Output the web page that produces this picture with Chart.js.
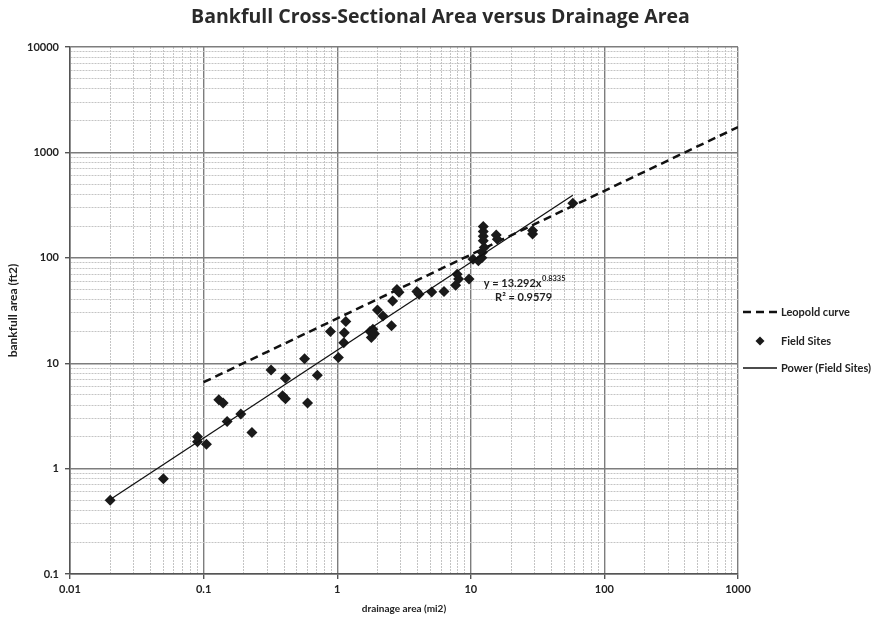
<!DOCTYPE html>
<html>
<head>
<meta charset="utf-8">
<title>Bankfull Cross-Sectional Area versus Drainage Area</title>
<script src="https://cdn.jsdelivr.net/npm/chart.js@4.4.1/dist/chart.umd.min.js"></script>
<style>
  html, body { margin: 0; padding: 0; background: #fff; }
  #wrap { width: 881px; height: 622px; }
</style>
</head>
<body>
<div id="wrap"><canvas id="chart" width="881" height="622"></canvas></div>
<script>
// Field sites: drainage area (mi2) and bankfull cross-sectional area (ft2)
var SITE_AREA = [0.02, 0.05, 0.09, 0.09, 0.105, 0.13, 0.14, 0.15, 0.19, 0.23,
  0.32, 0.39, 0.41, 0.41, 0.57, 0.6, 0.71, 0.89, 1.02, 1.12, 1.13, 1.16,
  1.76, 1.8, 1.85, 1.9, 2.0, 2.2, 2.55, 2.6, 2.8, 2.9, 3.95, 4.1, 5.1, 6.3,
  7.7, 7.9, 8.1, 9.7, 10.4, 11.4, 12.1, 12.2, 12.6, 12.4, 12.4, 12.4, 12.4,
  15.5, 15.8, 29, 29, 58];
var SITE_BANKFULL = [0.5, 0.8, 2.0, 1.8, 1.7, 4.5, 4.2, 2.8, 3.3, 2.2,
  8.6, 4.9, 4.6, 7.2, 11, 4.2, 7.7, 20, 11.3, 15.6, 19.5, 24.8,
  20, 17.5, 21, 19, 32, 28, 22.7, 39, 50, 47, 48, 45, 47.5, 48,
  55, 70, 63, 63, 97, 94, 100, 112, 125, 145, 160, 178, 198,
  165, 150, 182, 168, 330];

// Leopold regional curve end points
var LEOPOLD_AREA = [0.1, 1000];
var LEOPOLD_BANKFULL = [6.6, 1740];

// Power trendline through the field sites, y = 13.292x^0.8335
var POWER_AREA = [0.02, 58];
var POWER_BANKFULL = [0.51, 392];

var X_TICKS = [0.01, 0.1, 1, 10, 100, 1000];
var Y_TICKS = [0.1, 1, 10, 100, 1000, 10000];

var FONT = 'Lato, "Open Sans", sans-serif';
var TEXT_COLOR = '#222';

function toPoints(xs, ys) {
  return xs.map(function (x, i) { return { x: x, y: ys[i] }; });
}

function isDecade(value) {
  var l = Math.log10(value);
  return Math.abs(l - Math.round(l)) < 1e-6;
}

// log axis with a line at every 1..9 x 10^n, labels only on the decades
function logTicks(majors) {
  return function (scale) {
    var ticks = [];
    majors.forEach(function (m, i) {
      if (i === majors.length - 1) {
        ticks.push({ value: m });
        return;
      }
      for (var k = 1; k <= 9; k++) {
        ticks.push({ value: m * k });
      }
    });
    scale.ticks = ticks;
  };
}

function tickLabel(majors) {
  return function (value) {
    for (var i = 0; i < majors.length; i++) {
      if (Math.abs(Math.log10(majors[i]) - Math.log10(value)) < 1e-6) {
        return String(majors[i]);
      }
    }
    return '';
  };
}

function gridOptions() {
  return {
    color: function (c) { return c.tick && isDecade(c.tick.value) ? '#7d7d7d' : '#c4c4c4'; },
    lineWidth: function (c) { return c.tick && isDecade(c.tick.value) ? 1.4 : 1; },
    tickColor: function (c) { return c.tick && isDecade(c.tick.value) ? '#555' : 'rgba(0,0,0,0)'; },
    tickLength: 5
  };
}

function borderOptions() {
  return {
    color: '#555',
    width: 1.5,
    dash: function (c) { return c.tick && !isDecade(c.tick.value) ? [2, 1] : []; }
  };
}

// legend at the right of the plot
var sideLegend = {
  id: 'sideLegend',
  afterDraw: function (chart) {
    var ctx = chart.ctx;
    var x0 = chart.chartArea.right + 5;
    var rows = [312, 341, 368];
    var names = chart.data.datasets.map(function (d) { return d.label; });

    ctx.save();
    ctx.font = 'bold 11px ' + FONT;
    ctx.fillStyle = TEXT_COLOR;
    ctx.textBaseline = 'middle';

    // Leopold curve
    ctx.strokeStyle = '#111';
    ctx.lineWidth = 2.5;
    ctx.setLineDash([8, 5]);
    ctx.beginPath();
    ctx.moveTo(x0, rows[0]);
    ctx.lineTo(x0 + 34, rows[0]);
    ctx.stroke();
    ctx.setLineDash([]);
    ctx.fillText(names[0], x0 + 38, rows[0]);

    // Field sites
    var cx = x0 + 17;
    ctx.fillStyle = '#1a1a1a';
    ctx.beginPath();
    ctx.moveTo(cx, rows[1] - 4.5);
    ctx.lineTo(cx + 4.5, rows[1]);
    ctx.lineTo(cx, rows[1] + 4.5);
    ctx.lineTo(cx - 4.5, rows[1]);
    ctx.closePath();
    ctx.fill();
    ctx.fillStyle = TEXT_COLOR;
    ctx.fillText(names[1], x0 + 38, rows[1]);

    // Power trendline
    ctx.lineWidth = 1.3;
    ctx.beginPath();
    ctx.moveTo(x0, rows[2]);
    ctx.lineTo(x0 + 34, rows[2]);
    ctx.stroke();
    ctx.fillText(names[2], x0 + 38, rows[2]);
    ctx.restore();
  }
};

// trendline equation and R-squared
var trendLabel = {
  id: 'trendLabel',
  afterDatasetsDraw: function (chart) {
    var ctx = chart.ctx;
    var xs = chart.scales.x;
    var ys = chart.scales.y;
    var x1 = xs.getPixelForValue(12.5);
    var y1 = ys.getPixelForValue(57);
    var x2 = xs.getPixelForValue(15.2);
    var y2 = ys.getPixelForValue(42);

    ctx.save();
    ctx.fillStyle = TEXT_COLOR;
    ctx.textBaseline = 'middle';
    ctx.font = 'bold 11px ' + FONT;
    var base = 'y = 13.292x';
    ctx.fillText(base, x1, y1);
    var w = ctx.measureText(base).width;
    ctx.font = 'bold 7.5px ' + FONT;
    ctx.fillText('0.8335', x1 + w + 0.5, y1 - 5);
    ctx.font = 'bold 11px ' + FONT;
    ctx.fillText('R\u00b2 = 0.9579', x2, y2);
    ctx.restore();
  }
};

var chart = new Chart(document.getElementById('chart'), {
  type: 'scatter',
  data: {
    datasets: [{
      label: 'Leopold curve',
      data: toPoints(LEOPOLD_AREA, LEOPOLD_BANKFULL),
      showLine: true,
      borderColor: '#111',
      borderWidth: 2.5,
      borderDash: [8, 5],
      pointRadius: 0,
      order: 2
    }, {
      label: 'Field Sites',
      data: toPoints(SITE_AREA, SITE_BANKFULL),
      pointStyle: 'rectRot',
      pointRadius: 5.5,
      pointBackgroundColor: '#1a1a1a',
      pointBorderColor: '#1a1a1a',
      pointBorderWidth: 0,
      order: 1
    }, {
      label: 'Power (Field Sites)',
      data: toPoints(POWER_AREA, POWER_BANKFULL),
      showLine: true,
      borderColor: '#111',
      borderWidth: 1.3,
      pointRadius: 0,
      order: 0
    }]
  },
  options: {
    responsive: false,
    animation: false,
    layout: { padding: 0 },
    plugins: {
      legend: { display: false },
      tooltip: { enabled: false },
      title: {
        display: true,
        text: 'Bankfull Cross-Sectional Area versus Drainage Area',
        color: '#2a2a2a',
        font: { family: '"Open Sans", Lato, sans-serif', size: 19.5, weight: 'bold' },
        padding: { top: 6, bottom: 17.6 }
      }
    },
    scales: {
      x: {
        type: 'logarithmic',
        min: 0.01,
        max: 1000,
        afterBuildTicks: logTicks(X_TICKS),
        afterFit: function (scale) { scale.height = 48; },
        grid: gridOptions(),
        border: borderOptions(),
        ticks: {
          autoSkip: false,
          maxRotation: 0,
          padding: 4,
          color: TEXT_COLOR,
          font: { family: FONT, size: 11, weight: 'bold' },
          callback: tickLabel(X_TICKS)
        },
        title: {
          display: true,
          text: 'drainage area (mi2)',
          color: TEXT_COLOR,
          font: { family: FONT, size: 10, weight: 'bold' },
          padding: { top: 0, bottom: 7 }
        }
      },
      y: {
        type: 'logarithmic',
        min: 0.1,
        max: 10000,
        afterBuildTicks: logTicks(Y_TICKS),
        afterFit: function (scale) { scale.width = 70; },
        grid: gridOptions(),
        border: borderOptions(),
        ticks: {
          autoSkip: false,
          padding: 6,
          color: TEXT_COLOR,
          font: { family: FONT, size: 11, weight: 'bold' },
          callback: tickLabel(Y_TICKS)
        },
        title: {
          display: true,
          text: 'bankfull area (ft2)',
          color: TEXT_COLOR,
          font: { family: FONT, size: 12, weight: 'bold' },
          padding: { top: 6, bottom: 0 }
        }
      },
      // empty band on the right that holds the legend
      legendSpace: {
        type: 'linear',
        position: 'right',
        afterFit: function (scale) { scale.width = 143; },
        grid: { display: false, drawOnChartArea: false },
        border: { display: false },
        ticks: { display: false }
      }
    }
  },
  plugins: [sideLegend, trendLabel]
});
</script>
</body>
</html>
